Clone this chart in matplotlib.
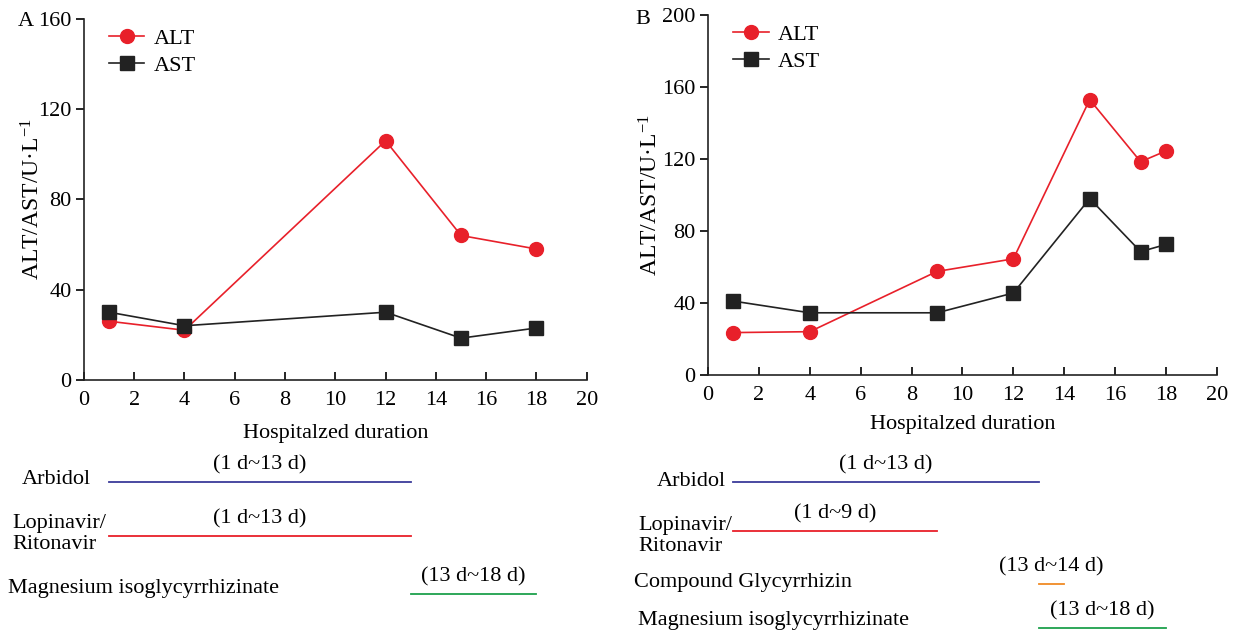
import matplotlib
matplotlib.use("Agg")
import matplotlib.pyplot as plt
import matplotlib.transforms as mtransforms

plt.rcParams["font.family"] = ["Liberation Serif", "DejaVu Serif"]
plt.rcParams["mathtext.fontset"] = "custom"
plt.rcParams["mathtext.rm"] = "Liberation Serif"
plt.rcParams["mathtext.it"] = "Liberation Serif:italic"

# panel A values
days_a = [1, 4, 12, 15, 18]
alt_a = [26, 22, 106, 64, 58]
ast_a = [30, 24, 30, 18.5, 23]

# panel B values
days_b = [1, 4, 9, 12, 15, 17, 18]
alt_b = [23.5, 24, 57.5, 64.5, 153, 118.5, 124.5]
ast_b = [41, 34.5, 34.5, 45.5, 98, 68.5, 72.5]

# medication courses: (name, start day, end day, label)
drugs_a = [
    ("Arbidol", 1, 13, "(1 d~13 d)"),
    ("Lopinavir/\nRitonavir", 1, 13, "(1 d~13 d)"),
    ("Magnesium isoglycyrrhizinate", 13, 18, "(13 d~18 d)"),
]
drugs_b = [
    ("Arbidol", 1, 13, "(1 d~13 d)"),
    ("Lopinavir/\nRitonavir", 1, 9, "(1 d~9 d)"),
    ("Compound Glycyrrhizin", 13, 14, "(13 d~14 d)"),
    ("Magnesium isoglycyrrhizinate", 13, 18, "(13 d~18 d)"),
]

RED = "#e8202a"
BLACK = "#222222"
DRUG_COLORS = {"Arbidol": "#3a3a9a", "Lopinavir/\nRitonavir": "#e8202a",
               "Compound Glycyrrhizin": "#f08a24",
               "Magnesium isoglycyrrhizinate": "#1ca04c"}
FS = 16

fig = plt.figure(figsize=(12.34, 6.3), dpi=100)
ax_a = fig.add_axes([0.068, 0.397, 0.4075, 0.573])
ax_b = fig.add_axes([0.5737, 0.405, 0.4125, 0.571])


def panel(ax, days, alt, ast, ymax, xpad, ypad):
    ax.plot(days, alt, color=RED, marker="o", ms=10, lw=1.2, label="ALT")
    ax.plot(days, ast, color=BLACK, marker="s", ms=10, lw=1.2, label="AST")
    ax.set_xlim(0, 20)
    ax.set_ylim(0, ymax)
    ax.set_xticks(range(0, 21, 2))
    ax.set_yticks(range(0, ymax + 1, 40))
    for s in ("top", "right"):
        ax.spines[s].set_visible(False)
    for s in ("left", "bottom"):
        ax.spines[s].set_linewidth(1.2)
        ax.spines[s].set_color(BLACK)
    ax.tick_params(axis="x", direction="in", length=6, width=1.2, labelsize=FS, pad=8)
    ax.tick_params(axis="y", direction="out", length=6, width=1.2, labelsize=FS, pad=3)
    ax.set_xlabel("Hospitalzed duration", fontsize=FS, labelpad=xpad)
    ax.set_ylabel("ALT/AST/U·L$^{-1}$", fontsize=FS + 1, labelpad=ypad)
    ax.legend(loc="upper left", bbox_to_anchor=(0.01, 1.03), frameon=False,
              fontsize=FS, handlelength=1.6, handletextpad=0.4, labelspacing=0.3)


panel(ax_a, days_a, alt_a, ast_a, 160, 10, -5)
panel(ax_b, days_b, alt_b, ast_b, 200, 7, 0)
fig.text(26 / 1234, 1 - 21 / 630, "A", fontsize=FS, ha="center", va="center")
fig.text(643 / 1234, 1 - 20 / 630, "B", fontsize=FS, ha="center", va="center")


def timeline(ax, drugs, rows, label_dy):
    trans = mtransforms.blended_transform_factory(ax.transData, fig.transFigure)
    for (name, start, end, lab), (y_line, y_name, x_name) in zip(drugs, rows):
        line = plt.Line2D([start, end], [y_line, y_line], transform=trans,
                          color=DRUG_COLORS[name], lw=1.3, clip_on=False)
        fig.add_artist(line)
        fig.text(x_name, y_name, name, fontsize=FS, ha="left", va="center",
                 linespacing=1.2)
        ax.text((start + end) / 2, y_line + label_dy, lab, transform=trans,
                fontsize=FS, ha="center", va="bottom", clip_on=False)


# rows: (line y, name y, name x) in figure fraction
rows_a = [(1 - 482 / 630, 1 - 479 / 630, 22 / 1234),
          (1 - 536 / 630, 1 - 534 / 630, 12 / 1234),
          (1 - 594 / 630, 1 - 588 / 630, 8 / 1234)]
rows_b = [(1 - 482 / 630, 1 - 482 / 630, 657 / 1234),
          (1 - 531 / 630, 1 - 536 / 630, 638 / 1234),
          (1 - 584 / 630, 1 - 582 / 630, 634 / 1234),
          (1 - 628 / 630, 1 - 620 / 630, 638 / 1234)]
timeline(ax_a, drugs_a, rows_a, 0.012)
timeline(ax_b, drugs_b, rows_b, 0.012)

fig.savefig("out.png", dpi=100)
